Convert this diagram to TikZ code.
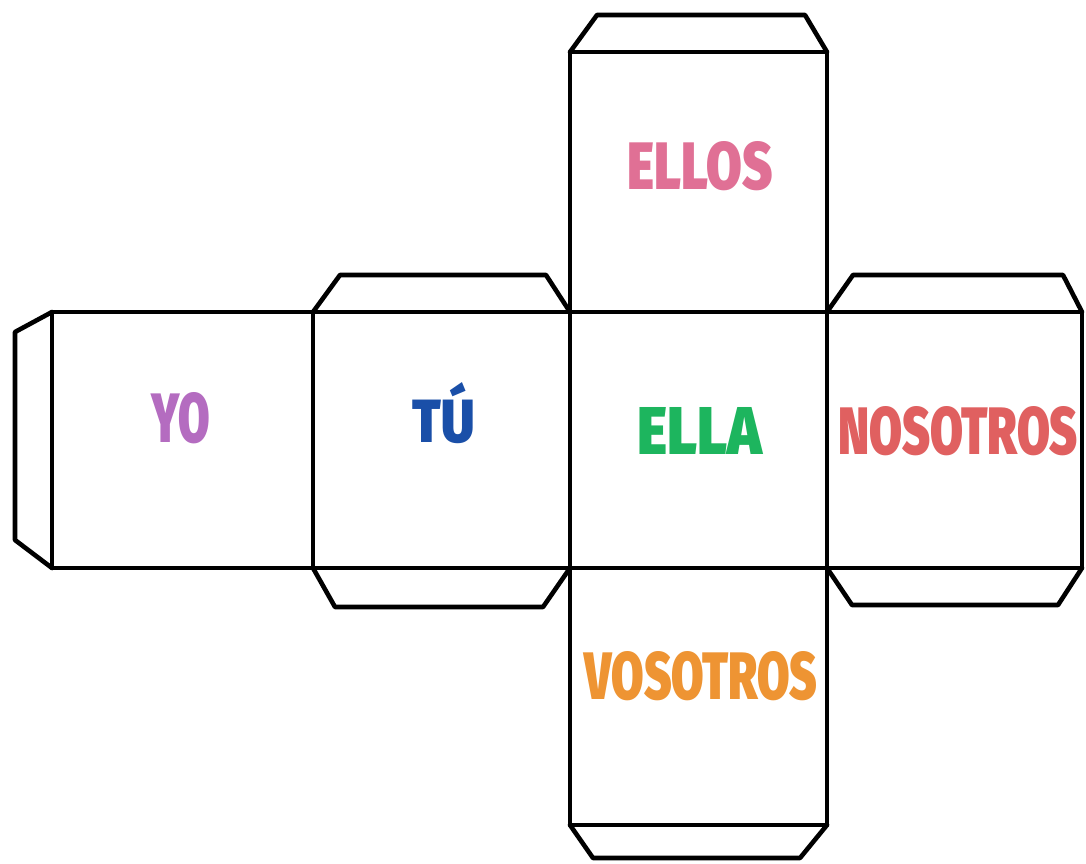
\documentclass[tikz,border=0pt]{standalone}
\usepackage{fontspec}
\setmainfont{Fira Sans}
\newfontfamily\heavy{Fira Sans Black}
\usepackage{graphicx}
\definecolor{cyo}{RGB}{180,108,192}
\definecolor{ctu}{RGB}{26,79,168}
\definecolor{cellos}{RGB}{224,112,149}
\definecolor{cella}{RGB}{29,181,94}
\definecolor{cnos}{RGB}{224,96,96}
\definecolor{cvos}{RGB}{238,148,51}
\tikzset{
  netline/.style={line width=4.6pt, line join=round, line cap=round, black},
  facetext/.style={inner sep=0pt, font=\heavy},
}
\begin{document}
\begin{tikzpicture}[x=1pt,y=-1pt]
\useasboundingbox[fill=white] (0,0) rectangle (1086,863);
% main strip
\draw[netline] (52,312) rectangle (1082,568);
\foreach \xx in {313,570,827} \draw[netline] (\xx,312) -- (\xx,568);
% top and bottom columns
\draw[netline] (570,312) -- (570,52) -- (827,52) -- (827,312);
\draw[netline] (570,568) -- (570,825) -- (827,825) -- (827,568);
% tabs
\draw[netline] (570,52) -- (597,15) -- (805,15) -- (827,52);
\draw[netline] (570,825) -- (593,858) -- (800,858) -- (827,825);
\draw[netline] (313,312) -- (340,275) -- (546,275) -- (570,312);
\draw[netline] (313,568) -- (335,607) -- (543,607) -- (570,568);
\draw[netline] (827,312) -- (853,275) -- (1063,275) -- (1082,312);
\draw[netline] (827,568) -- (852,605) -- (1058,605) -- (1082,568);
\draw[netline] (52,312) -- (15,332) -- (15,540) -- (52,568);
% labels
\node[facetext, text=cyo] (yo) at (181,418) {\resizebox{58pt}{50pt}{YO}};
\node[facetext, text=ctu] (tu) at (444,413) {\resizebox{62pt}{60pt}{TÚ}};
\node[facetext, text=cellos] (ellos) at (700,166) {\resizebox{145pt}{48pt}{ELLOS}};
\node[facetext, text=cella] (ella) at (700,431) {\resizebox{125pt}{47pt}{ELLA}};
\node[facetext, text=cnos] (nos) at (958,431) {\resizebox{240pt}{48pt}{NOSOTROS}};
\node[facetext, text=cvos] (vos) at (701,676) {\resizebox{233pt}{48pt}{VOSOTROS}};
\end{tikzpicture}
\end{document}
